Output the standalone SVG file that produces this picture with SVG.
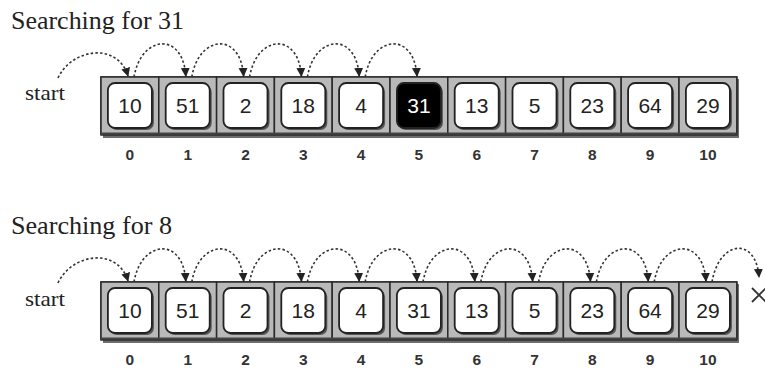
<svg xmlns="http://www.w3.org/2000/svg" width="765" height="370" viewBox="0 0 765 370">
<defs>
<style>
.title{font-family:"Liberation Serif","Times New Roman",serif;font-size:25px;fill:#222}
.start{font-family:"Liberation Serif","Times New Roman",serif;font-size:21px;fill:#222}
.val{font-family:"Liberation Sans",Arial,sans-serif;font-size:21px;fill:#222;text-anchor:middle}
.valw{font-family:"Liberation Sans",Arial,sans-serif;font-size:21px;fill:#fff;text-anchor:middle}
.idx{font-family:"Liberation Sans",Arial,sans-serif;font-size:15.5px;font-weight:bold;fill:#333;text-anchor:middle}
.cell{fill:#b9b9b9;stroke:#2a2a2a;stroke-width:1.5}
.sh{fill:#555}
.box{fill:#fff;stroke:#222;stroke-width:1.8}
.boxb{fill:#000;stroke:#222;stroke-width:1.8}
.arc{fill:none;stroke:#333;stroke-width:1.6;stroke-dasharray:2.5,2.2;marker-end:url(#ah)}
.outer{fill:#6e6e6e}
</style>
<marker id="ah" markerUnits="userSpaceOnUse" markerWidth="9" markerHeight="10" refX="9" refY="5" orient="auto" viewBox="0 0 10 10">
<path d="M0,0 L10,5 L0,10 z" fill="#222"/>
</marker>
<g id="arr">
<rect class="outer" x="103" y="79" width="636" height="59"/>
<rect x="101" y="77" width="635.8" height="58" fill="#b9b9b9" stroke="#2a2a2a" stroke-width="1.5"/>
<line x1="101" y1="133" x2="736.8" y2="133" stroke="#555" stroke-width="2"/>
</g>
</defs>

<!-- Top panel -->
<text class="title" x="11" y="29" textLength="173" lengthAdjust="spacingAndGlyphs">Searching for 31</text>
<text class="start" x="25" y="100" textLength="40" lengthAdjust="spacingAndGlyphs">start</text>
<use href="#arr"/>
<g id="t0"><rect class="cell" x="101" y="77" width="57.8" height="57"/><rect class="sh" x="109.9" y="85" width="44" height="45" rx="7"/><rect class="box" x="107.9" y="83" width="44" height="45" rx="7"/><text class="val" x="129.9" y="113">10</text><text class="idx" x="129.9" y="160">0</text></g>
<g id="t1"><rect class="cell" x="158.8" y="77" width="57.8" height="57"/><rect class="sh" x="167.7" y="85" width="44" height="45" rx="7"/><rect class="box" x="165.7" y="83" width="44" height="45" rx="7"/><text class="val" x="187.7" y="113">51</text><text class="idx" x="187.7" y="160">1</text></g>
<g id="t2"><rect class="cell" x="216.6" y="77" width="57.8" height="57"/><rect class="sh" x="225.5" y="85" width="44" height="45" rx="7"/><rect class="box" x="223.5" y="83" width="44" height="45" rx="7"/><text class="val" x="245.5" y="113">2</text><text class="idx" x="245.5" y="160">2</text></g>
<g id="t3"><rect class="cell" x="274.4" y="77" width="57.8" height="57"/><rect class="sh" x="283.3" y="85" width="44" height="45" rx="7"/><rect class="box" x="281.3" y="83" width="44" height="45" rx="7"/><text class="val" x="303.3" y="113">18</text><text class="idx" x="303.3" y="160">3</text></g>
<g id="t4"><rect class="cell" x="332.2" y="77" width="57.8" height="57"/><rect class="sh" x="341.1" y="85" width="44" height="45" rx="7"/><rect class="box" x="339.1" y="83" width="44" height="45" rx="7"/><text class="val" x="361.1" y="113">4</text><text class="idx" x="361.1" y="160">4</text></g>
<g id="t5"><rect class="cell" x="390" y="77" width="57.8" height="57"/><rect class="sh" x="398.9" y="85" width="44" height="45" rx="7"/><rect class="boxb" x="396.9" y="83" width="44" height="45" rx="7"/><text class="valw" x="418.9" y="113">31</text><text class="idx" x="418.9" y="160">5</text></g>
<g id="t6"><rect class="cell" x="447.8" y="77" width="57.8" height="57"/><rect class="sh" x="456.7" y="85" width="44" height="45" rx="7"/><rect class="box" x="454.7" y="83" width="44" height="45" rx="7"/><text class="val" x="476.7" y="113">13</text><text class="idx" x="476.7" y="160">6</text></g>
<g id="t7"><rect class="cell" x="505.6" y="77" width="57.8" height="57"/><rect class="sh" x="514.5" y="85" width="44" height="45" rx="7"/><rect class="box" x="512.5" y="83" width="44" height="45" rx="7"/><text class="val" x="534.5" y="113">5</text><text class="idx" x="534.5" y="160">7</text></g>
<g id="t8"><rect class="cell" x="563.4" y="77" width="57.8" height="57"/><rect class="sh" x="572.3" y="85" width="44" height="45" rx="7"/><rect class="box" x="570.3" y="83" width="44" height="45" rx="7"/><text class="val" x="592.3" y="113">23</text><text class="idx" x="592.3" y="160">8</text></g>
<g id="t9"><rect class="cell" x="621.2" y="77" width="57.8" height="57"/><rect class="sh" x="630.1" y="85" width="44" height="45" rx="7"/><rect class="box" x="628.1" y="83" width="44" height="45" rx="7"/><text class="val" x="650.1" y="113">64</text><text class="idx" x="650.1" y="160">9</text></g>
<g id="t10"><rect class="cell" x="679" y="77" width="57.8" height="57"/><rect class="sh" x="687.9" y="85" width="44" height="45" rx="7"/><rect class="box" x="685.9" y="83" width="44" height="45" rx="7"/><text class="val" x="707.9" y="113">29</text><text class="idx" x="707.9" y="160">10</text></g>
<line x1="101" y1="133.5" x2="736.8" y2="133.5" stroke="#444" stroke-width="2"/>

<g id="connectors-top">
<path class="arc" d="M58,78 C72,48 118,42 128,76"/>
<path class="arc" d="M134,77 C141,35 183,31 185.8,76"/>
<path class="arc" d="M191.8,77 C198.8,35 240.6,31 243.6,76"/>
<path class="arc" d="M249.6,77 C256.6,35 298.4,31 301.4,76"/>
<path class="arc" d="M307.4,77 C314.4,35 356.2,31 359.2,76"/>
<path class="arc" d="M365.2,77 C372.2,35 414,31 417,76"/>
</g>

<!-- Bottom panel -->
<g transform="translate(0,205)">
<text class="title" x="11" y="29" textLength="161" lengthAdjust="spacingAndGlyphs">Searching for 8</text>
<text class="start" x="25" y="101" textLength="40" lengthAdjust="spacingAndGlyphs">start</text>
<use href="#arr"/>
<g id="b0"><rect class="cell" x="101" y="77" width="57.8" height="57"/><rect class="sh" x="109.9" y="85" width="44" height="45" rx="7"/><rect class="box" x="107.9" y="83" width="44" height="45" rx="7"/><text class="val" x="129.9" y="113">10</text><text class="idx" x="129.9" y="160">0</text></g>
<g id="b1"><rect class="cell" x="158.8" y="77" width="57.8" height="57"/><rect class="sh" x="167.7" y="85" width="44" height="45" rx="7"/><rect class="box" x="165.7" y="83" width="44" height="45" rx="7"/><text class="val" x="187.7" y="113">51</text><text class="idx" x="187.7" y="160">1</text></g>
<g id="b2"><rect class="cell" x="216.6" y="77" width="57.8" height="57"/><rect class="sh" x="225.5" y="85" width="44" height="45" rx="7"/><rect class="box" x="223.5" y="83" width="44" height="45" rx="7"/><text class="val" x="245.5" y="113">2</text><text class="idx" x="245.5" y="160">2</text></g>
<g id="b3"><rect class="cell" x="274.4" y="77" width="57.8" height="57"/><rect class="sh" x="283.3" y="85" width="44" height="45" rx="7"/><rect class="box" x="281.3" y="83" width="44" height="45" rx="7"/><text class="val" x="303.3" y="113">18</text><text class="idx" x="303.3" y="160">3</text></g>
<g id="b4"><rect class="cell" x="332.2" y="77" width="57.8" height="57"/><rect class="sh" x="341.1" y="85" width="44" height="45" rx="7"/><rect class="box" x="339.1" y="83" width="44" height="45" rx="7"/><text class="val" x="361.1" y="113">4</text><text class="idx" x="361.1" y="160">4</text></g>
<g id="b5"><rect class="cell" x="390" y="77" width="57.8" height="57"/><rect class="sh" x="398.9" y="85" width="44" height="45" rx="7"/><rect class="box" x="396.9" y="83" width="44" height="45" rx="7"/><text class="val" x="418.9" y="113">31</text><text class="idx" x="418.9" y="160">5</text></g>
<g id="b6"><rect class="cell" x="447.8" y="77" width="57.8" height="57"/><rect class="sh" x="456.7" y="85" width="44" height="45" rx="7"/><rect class="box" x="454.7" y="83" width="44" height="45" rx="7"/><text class="val" x="476.7" y="113">13</text><text class="idx" x="476.7" y="160">6</text></g>
<g id="b7"><rect class="cell" x="505.6" y="77" width="57.8" height="57"/><rect class="sh" x="514.5" y="85" width="44" height="45" rx="7"/><rect class="box" x="512.5" y="83" width="44" height="45" rx="7"/><text class="val" x="534.5" y="113">5</text><text class="idx" x="534.5" y="160">7</text></g>
<g id="b8"><rect class="cell" x="563.4" y="77" width="57.8" height="57"/><rect class="sh" x="572.3" y="85" width="44" height="45" rx="7"/><rect class="box" x="570.3" y="83" width="44" height="45" rx="7"/><text class="val" x="592.3" y="113">23</text><text class="idx" x="592.3" y="160">8</text></g>
<g id="b9"><rect class="cell" x="621.2" y="77" width="57.8" height="57"/><rect class="sh" x="630.1" y="85" width="44" height="45" rx="7"/><rect class="box" x="628.1" y="83" width="44" height="45" rx="7"/><text class="val" x="650.1" y="113">64</text><text class="idx" x="650.1" y="160">9</text></g>
<g id="b10"><rect class="cell" x="679" y="77" width="57.8" height="57"/><rect class="sh" x="687.9" y="85" width="44" height="45" rx="7"/><rect class="box" x="685.9" y="83" width="44" height="45" rx="7"/><text class="val" x="707.9" y="113">29</text><text class="idx" x="707.9" y="160">10</text></g>
<line x1="101" y1="133.5" x2="736.8" y2="133.5" stroke="#444" stroke-width="2"/>
<g id="notfound"><path d="M752,83 L766,97 M766,83 L752,97" stroke="#333" stroke-width="1.8" fill="none"/></g>

<g id="connectors-bottom">
<path class="arc" d="M58,78 C72,48 118,42 128,76"/>
<path class="arc" d="M134,77 C141,35 183,31 185.8,76"/>
<path class="arc" d="M191.8,77 C198.8,35 240.6,31 243.6,76"/>
<path class="arc" d="M249.6,77 C256.6,35 298.4,31 301.4,76"/>
<path class="arc" d="M307.4,77 C314.4,35 356.2,31 359.2,76"/>
<path class="arc" d="M365.2,77 C372.2,35 414,31 417,76"/>
<path class="arc" d="M423,77 C430,35 471.8,31 474.8,76"/>
<path class="arc" d="M480.8,77 C487.8,35 529.6,31 532.6,76"/>
<path class="arc" d="M538.6,77 C545.6,35 587.4,31 590.4,76"/>
<path class="arc" d="M596.4,77 C603.4,35 645.2,31 648.2,76"/>
<path class="arc" d="M654.2,77 C661.2,35 703,31 706,76"/>
<path class="arc" d="M712,77 C719,35 756,31 759,72"/>
</g>
</g>
</svg>
